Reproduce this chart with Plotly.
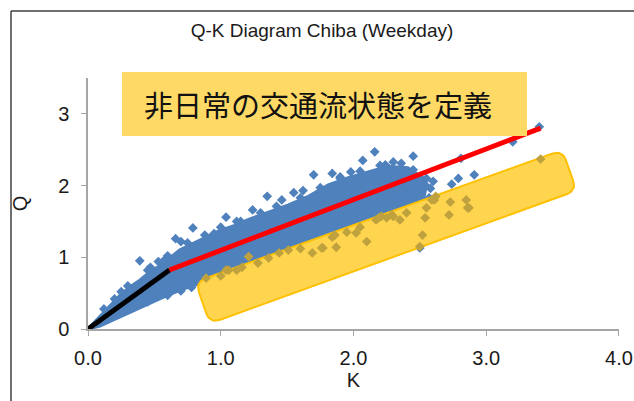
import numpy as np
import plotly.graph_objects as go

# ---- observed flow-density data (K: density, Q: flow) ----
# outline of the dense weekday point cloud (upper edge, then lower edge back to origin)
cloud_k = [0.0, 0.09, 0.165, 0.24, 0.315, 0.39, 0.465, 0.54, 0.615, 0.69, 0.765, 0.84, 0.915,
           0.99, 1.10, 1.21, 1.36, 1.51, 1.66, 1.81, 1.96, 2.11, 2.26, 2.41, 2.49, 2.55, 2.52,
           2.34, 1.96, 1.59, 1.21, 0.915, 0.80, 0.69, 0.54, 0.39, 0.24, 0.09, 0.0]
cloud_q = [0.0, 0.18, 0.335, 0.47, 0.585, 0.68, 0.795, 0.88, 0.99, 1.10, 1.17, 1.24, 1.30,
           1.37, 1.44, 1.53, 1.63, 1.73, 1.85, 2.01, 2.11, 2.19, 2.27, 2.25, 2.15, 2.01, 1.73,
           1.60, 1.35, 1.10, 0.85, 0.655, 0.61, 0.54, 0.42, 0.29, 0.17, 0.04, 0.0]

# scattered observations around the cloud
pts_k = [0.25, 0.39, 0.53, 0.66, 0.70, 0.79, 1.04, 1.24, 1.35, 1.46, 1.55, 1.70, 1.84, 1.98,
         2.07, 2.16, 2.24, 2.36, 2.45, 2.52, 2.51, 2.34, 2.39, 2.50, 2.54, 2.74, 2.79, 2.91,
         2.81, 3.20, 3.40, 2.50, 0.47, 0.60, 0.95, 1.15, 1.62, 1.90, 2.28,
         0.12, 0.20, 0.30, 0.45, 0.58, 0.75, 0.88, 1.00, 1.12, 1.30, 1.42, 1.60, 1.75, 1.90,
         2.05, 2.20, 2.30, 2.45, 2.55, 2.58, 2.57, 2.60, 2.47, 2.42,
         0.15, 0.30, 0.45, 0.60, 0.70, 0.78]
pts_q = [0.52, 0.95, 0.94, 1.26, 1.22, 1.41, 1.56, 1.66, 1.85, 1.80, 1.90, 2.15, 2.17, 2.19,
         2.35, 2.47, 2.29, 2.31, 2.41, 2.08, 1.78, 1.76, 1.87, 2.05, 2.01, 2.02, 2.10, 2.15,
         2.38, 2.61, 2.82, 1.13, 0.86, 1.02, 1.33, 1.50, 1.93, 2.12, 2.22,
         0.28, 0.42, 0.60, 0.82, 0.97, 1.20, 1.31, 1.42, 1.50, 1.62, 1.71, 1.83, 1.97, 2.10,
         2.20, 2.28, 2.33, 2.22, 2.10, 1.96, 1.83, 2.06, 1.92, 1.70,
         0.14, 0.27, 0.38, 0.47, 0.53, 0.58]

# observations lying in the highlighted (non-ordinary) region
low_k = [0.89, 1.00, 1.04, 1.06, 1.12, 1.16, 1.21, 1.28, 1.36, 1.44, 1.51, 1.60, 1.69, 1.76,
         1.77, 1.84, 1.86, 1.87, 1.95, 2.02, 2.05, 2.10, 2.17, 2.19, 2.21, 2.25, 2.29, 2.30,
         2.35, 2.40, 2.50, 2.52, 2.54, 2.55, 2.59, 2.61, 2.62, 2.72, 2.73, 2.85, 2.86, 2.87,
         3.41]
low_q = [0.71, 0.74, 0.82, 0.82, 0.82, 0.86, 1.01, 0.92, 0.99, 1.06, 1.10, 1.12, 1.06, 1.13,
         1.13, 1.28, 1.31, 1.14, 1.35, 1.34, 1.42, 1.22, 1.52, 1.55, 1.57, 1.55, 1.59, 1.57,
         1.52, 1.62, 1.15, 1.31, 1.55, 1.69, 1.80, 1.80, 1.85, 1.59, 1.77, 1.80, 1.69, 1.69,
         2.37]

# fitted Q-K relation: free-flow segment and congested-flow segment
free_k = [0.0, 0.614]
free_q = [0.0, 0.823]
fit_k = [0.614, 3.41]
fit_q = [0.823, 2.80]

# highlight box corners (K, Q): top-left, top-right, bottom-right, bottom-left
box_k = [0.809, 3.573, 3.682, 0.918]
box_q = [0.655, 2.496, 1.931, 0.077]

TITLE = "Q-K Diagram Chiba (Weekday)"
BANNER = "非日常の交通流状態を定義"
X_TICKS = [0, 1, 2, 3, 4]
X_TEXT = ["0.0", "1.0", "2.0", "3.0", "4.0"]
Y_TICKS = [0, 1, 2, 3]
Y_TEXT = ["0", "1", "2", "3"]

# ---- layout geometry ----
W, H = 634, 401
ML, MR, MT, MB = 88, 15, 78, 72
X_RANGE = [0, 4.0005]
Y_RANGE = [0, 3.5]
plot_w = W - ML - MR
plot_h = H - MT - MB
sx = plot_w / (X_RANGE[1] - X_RANGE[0])
sy = plot_h / (Y_RANGE[1] - Y_RANGE[0])


def rounded_polygon(ks, qs, radius_px=10, steps=8):
    """Rounded-corner outline of a polygon, with the radius given in screen pixels."""
    px = np.array([(k - X_RANGE[0]) * sx for k in ks])
    py = np.array([-(q - Y_RANGE[0]) * sy for q in qs])
    n = len(px)
    out_x, out_y = [], []
    for i in range(n):
        p = np.array([px[i], py[i]])
        a = np.array([px[i - 1], py[i - 1]])
        b = np.array([px[(i + 1) % n], py[(i + 1) % n]])
        ua = (a - p) / np.linalg.norm(a - p)
        ub = (b - p) / np.linalg.norm(b - p)
        s = p + ua * radius_px
        e = p + ub * radius_px
        for t in np.linspace(0, 1, steps):
            # quadratic Bezier through the corner
            c = (1 - t) ** 2 * s + 2 * (1 - t) * t * p + t ** 2 * e
            out_x.append(c[0])
            out_y.append(c[1])
    out_x.append(out_x[0])
    out_y.append(out_y[0])
    return ([x / sx + X_RANGE[0] for x in out_x], [-y / sy + Y_RANGE[0] for y in out_y])


BLUE = "#4F81BD"
fig = go.Figure()

fig.add_trace(go.Scatter(x=cloud_k, y=cloud_q, mode="lines", fill="toself",
                         fillcolor=BLUE, line=dict(color=BLUE, width=3),
                         hoverinfo="skip", showlegend=False))
fig.add_trace(go.Scatter(x=pts_k, y=pts_q, mode="markers",
                         marker=dict(symbol="diamond", size=7.5, color=BLUE),
                         showlegend=False))

bx, by = rounded_polygon(box_k, box_q, radius_px=11)
fig.add_trace(go.Scatter(x=bx, y=by, mode="lines", fill="toself",
                         fillcolor="#FFD44F", line=dict(color="#FFC000", width=2),
                         hoverinfo="skip", showlegend=False))
fig.add_trace(go.Scatter(x=low_k, y=low_q, mode="markers",
                         marker=dict(symbol="diamond", size=7.5, color="#BFA23E"),
                         showlegend=False))

fig.add_trace(go.Scatter(x=free_k, y=free_q, mode="lines",
                         line=dict(color="black", width=5), showlegend=False))
fig.add_trace(go.Scatter(x=fit_k, y=fit_q, mode="lines",
                         line=dict(color="#FF0000", width=5), showlegend=False))

TICK_FONT = dict(family="Liberation Sans", size=20, color="#1a1a1a")
TITLE_FONT = dict(family="Liberation Sans", size=20, color="#1a1a1a")
axis_common = dict(showline=True, linecolor="#A6A6A6", linewidth=1.5, ticks="outside",
                   ticklen=5, tickcolor="#A6A6A6", showgrid=False, zeroline=False,
                   tickfont=TICK_FONT, ticklabeloverflow="allow", automargin=False)

fig.update_layout(
    width=W, height=H,
    margin=dict(l=ML, r=MR, t=MT, b=MB, autoexpand=False),
    paper_bgcolor="white", plot_bgcolor="white",
    title=dict(text=TITLE, x=322 / W, y=1 - 30 / H, xref="container", yref="container",
               xanchor="center", yanchor="middle",
               font=dict(family="Liberation Sans", size=19, color="#1a1a1a")),
    xaxis=dict(range=X_RANGE, tickvals=X_TICKS, ticktext=X_TEXT, ticklabelstandoff=5,
               title=dict(text="K", standoff=5, font=TITLE_FONT),
               **axis_common),
    yaxis=dict(range=Y_RANGE, tickvals=Y_TICKS, ticktext=Y_TEXT, ticklabelstandoff=8,
               title=dict(text="Q", standoff=25, font=TITLE_FONT),
               **axis_common),
)

# outer frame (left and top edges visible)
fx0 = (11 - ML) / plot_w
fy1 = (H - MB - 11) / plot_h
fig.add_shape(type="line", xref="paper", yref="paper", x0=fx0, x1=fx0, y0=-1, y1=fy1,
              line=dict(color="#404040", width=1.5))
fig.add_shape(type="line", xref="paper", yref="paper", x0=fx0, x1=1.5, y0=fy1, y1=fy1,
              line=dict(color="#404040", width=1.5))

# banner with the headline text
bx0 = (122 - ML) / plot_w
bx1 = (527 - ML) / plot_w
by0 = (H - MB - 136) / plot_h
by1 = (H - MB - 72) / plot_h
fig.add_shape(type="rect", xref="paper", yref="paper", x0=bx0, x1=bx1, y0=by0, y1=by1,
              fillcolor="#FFD966", line=dict(width=0), layer="above")
fig.add_annotation(text=BANNER, xref="paper", yref="paper",
                   x=(318 - ML) / plot_w, y=(H - MB - 104) / plot_h,
                   showarrow=False, xanchor="center", yanchor="middle",
                   font=dict(family="Noto Sans CJK JP", size=29, color="#111111"))

fig.write_html("out.html")
